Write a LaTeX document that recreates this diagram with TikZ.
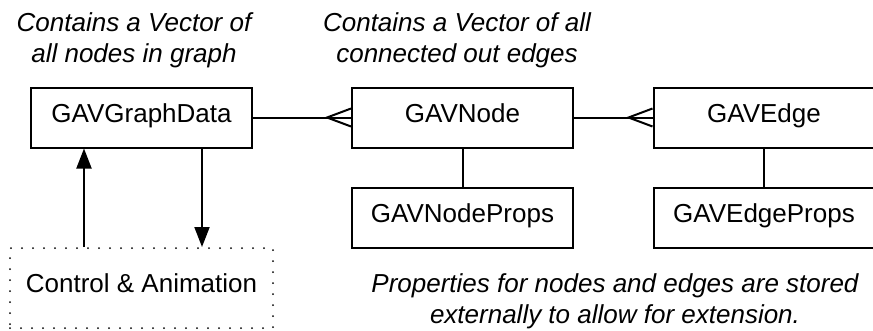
\documentclass[tikz,border=0pt]{standalone}
\usepackage{fontspec}
\setmainfont{Liberation Sans}
\usetikzlibrary{arrows.meta,calc}

\newcommand{\labelsize}{\fontsize{26}{31}\selectfont}

\tikzset{
  box/.style={draw, line width=2pt, rectangle, minimum width=221pt, minimum height=60pt,
              inner sep=0pt, text height=19pt, text depth=10pt},
  ctrlbox/.style={draw, line width=2pt, line cap=round, dash pattern=on 0pt off 11pt,
                  rectangle, minimum width=263pt, minimum height=80pt,
                  inner sep=0pt, text height=19pt, text depth=10pt},
  conn/.style={line width=2pt},
  flow/.style={line width=2pt, -{Triangle[width=15pt,length=20pt]}},
  note/.style={font=\labelsize\itshape, align=center, inner sep=0pt, anchor=north},
}

\begin{document}
\begin{tikzpicture}[x=1pt, y=-1pt, font=\labelsize]
  \useasboundingbox (0,0) rectangle (873,330);

  % class boxes
  \node[box] (data)  at (141.5,117.5) {GAVGraphData};
  \node[box] (gnode) at (462.5,117.5) {GAVNode};
  \node[box] (gedge) at (764,117.5)   {GAVEdge};
  \node[box] (nprops) at (462.5,217.5) {GAVNodeProps};
  \node[box] (eprops) at (764,217.5)   {GAVEdgeProps};

  % controller
  \node[ctrlbox] (ctrl) at (141.5,288) {Control \& Animation};

  % notes
  \node[note] (n1) at (134,12) {Contains a Vector of\\all nodes in graph};
  \node[note] (n2) at (457,12) {Contains a Vector of all\\connected out edges};
  \node[note] (n3) at (615,273) {Properties for nodes and edges are stored\\externally to allow for extension.};

  % one-to-many links (crow's feet)
  \draw[conn] (data.east) -- (gnode.west);
  \coordinate (cf1) at ($(gnode.west)+(-24,0)$);
  \draw[conn] ($(gnode.west)+(0,-9)$) -- (cf1) -- ($(gnode.west)+(0,9)$);

  \draw[conn] (gnode.east) -- (gedge.west);
  \coordinate (cf2) at ($(gedge.west)+(-24,0)$);
  \draw[conn] ($(gedge.west)+(0,-9)$) -- (cf2) -- ($(gedge.west)+(0,9)$);

  % property links
  \draw[conn] (gnode.south) -- (nprops.north);
  \draw[conn] (gedge.south) -- (eprops.north);

  % control flow
  \draw[flow] (ctrl.north -| 84,0) -- (data.south -| 84,0);
  \draw[flow] (data.south -| 202,0) -- (ctrl.north -| 202,0);
\end{tikzpicture}
\end{document}
